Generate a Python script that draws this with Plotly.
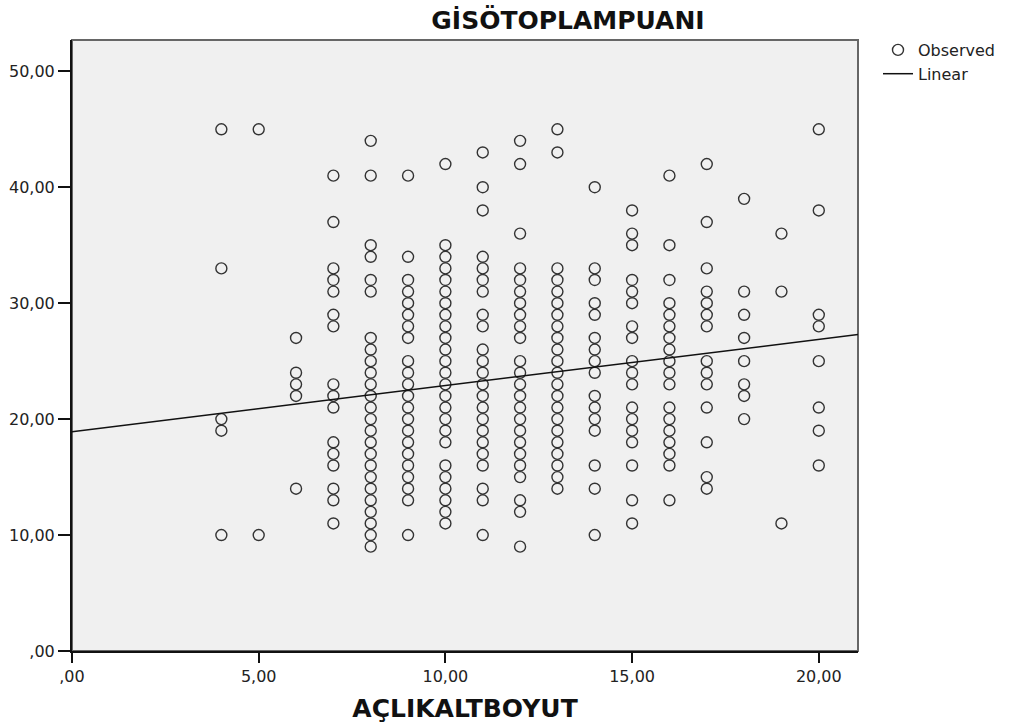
import plotly.graph_objects as go

# Observed values, read per x column (AÇLIKALTBOYUT -> GİSÖTOPLAMPUANI)
col_4 = [45, 33, 20, 19, 10]
col_5 = [45, 10]
col_6 = [27, 24, 23, 22, 14]
col_7 = [41, 37, 33, 32, 31, 29, 28, 23, 22, 21, 18, 17, 16, 14, 13, 11]
col_8 = [44, 41, 35, 34, 32, 31, 27, 26, 25, 24, 23, 22, 21, 20, 19, 18, 17, 16, 15, 14, 13, 12, 11, 10, 9]
col_9 = [41, 34, 32, 31, 30, 29, 28, 27, 25, 24, 23, 22, 21, 20, 19, 18, 17, 16, 15, 14, 13, 10]
col_10 = [42, 35, 34, 33, 32, 31, 30, 29, 28, 27, 26, 25, 24, 23, 22, 21, 20, 19, 18, 16, 15, 14, 13, 12, 11]
col_11 = [43, 40, 38, 34, 33, 32, 31, 29, 28, 26, 25, 24, 23, 22, 21, 20, 19, 18, 17, 16, 14, 13, 10]
col_12 = [44, 42, 36, 33, 32, 31, 30, 29, 28, 27, 25, 24, 23, 22, 21, 20, 19, 18, 17, 16, 15, 13, 12, 9]
col_13 = [45, 43, 33, 32, 31, 30, 29, 28, 27, 26, 25, 24, 23, 22, 21, 20, 19, 18, 17, 16, 15, 14]
col_14 = [40, 33, 32, 30, 29, 27, 26, 25, 24, 22, 21, 20, 19, 16, 14, 10]
col_15 = [38, 36, 35, 32, 31, 30, 28, 27, 25, 24, 23, 21, 20, 19, 18, 16, 13, 11]
col_16 = [41, 35, 32, 30, 29, 28, 27, 26, 25, 24, 23, 21, 20, 19, 18, 17, 16, 13]
col_17 = [42, 37, 33, 31, 30, 29, 28, 25, 24, 23, 21, 18, 15, 14]
col_18 = [39, 31, 29, 27, 25, 23, 22, 20]
col_19 = [36, 31, 11]
col_20 = [45, 38, 29, 28, 25, 21, 19, 16]

x_levels = [4, 5, 6, 7, 8, 9, 10, 11, 12, 13, 14, 15, 16, 17, 18, 19, 20]
columns = [col_4, col_5, col_6, col_7, col_8, col_9, col_10, col_11, col_12,
           col_13, col_14, col_15, col_16, col_17, col_18, col_19, col_20]

# Linear fit line endpoints
line_x = [0.0, 21.05]
line_y = [18.9, 27.3]

x_tick_vals = [0, 5, 10, 15, 20]
x_tick_text = [",00", "5,00", "10,00", "15,00", "20,00"]
y_tick_vals = [0, 10, 20, 30, 40, 50]
y_tick_text = [",00", "10,00", "20,00", "30,00", "40,00", "50,00"]

obs_x, obs_y = [], []
for xv, col in zip(x_levels, columns):
    for yv in col:
        obs_x.append(xv)
        obs_y.append(yv)

FONT = "DejaVu Sans"

fig = go.Figure()
fig.add_trace(go.Scatter(
    x=obs_x, y=obs_y, mode="markers", name="Observed",
    marker=dict(symbol="circle-open", size=11, color="#333333",
                line=dict(width=1.4, color="#333333")),
))
fig.add_trace(go.Scatter(
    x=line_x, y=line_y, mode="lines", name="Linear",
    line=dict(color="#111111", width=1.5),
))

fig.add_shape(type="rect", xref="paper", yref="paper", x0=0, y0=0, x1=1, y1=1,
              line=dict(color="#666666", width=2), layer="below")

fig.update_layout(
    width=1013, height=727,
    margin=dict(l=72, r=155, t=40, b=76),
    paper_bgcolor="white",
    plot_bgcolor="#F0F0F0",
    title=dict(text="<b>GİSÖTOPLAMPUANI</b>", x=568/1013, xanchor="center",
               y=1 - 20/727, yanchor="middle", xref="container", yref="container",
               font=dict(family=FONT, size=25, color="#111111")),
    showlegend=True,
    legend=dict(x=878/1013, y=1 - 33/727, xref="container", yref="container",
                xanchor="left", yanchor="top", bgcolor="rgba(0,0,0,0)",
                font=dict(family=FONT, size=16, color="#222222"),
                tracegroupgap=0, itemwidth=30),
)

fig.update_xaxes(
    range=[0, 21.05], tickvals=x_tick_vals, ticktext=x_tick_text,
    ticks="outside", ticklen=10, tickwidth=1.5, tickcolor="#111111",
    showgrid=False, zeroline=False, showline=True, linecolor="#111111", linewidth=2,
    tickfont=dict(family=FONT, size=16, color="#222222"),
    title=dict(text="<b>AÇLIKALTBOYUT</b>", standoff=14,
               font=dict(family=FONT, size=25, color="#111111")),
    automargin=False,
)
fig.update_yaxes(
    range=[0, 52.7], tickvals=y_tick_vals, ticktext=y_tick_text,
    ticks="outside", ticklen=12, tickwidth=1.5, tickcolor="#111111",
    showgrid=False, zeroline=False, showline=True, linecolor="#111111", linewidth=2,
    tickfont=dict(family=FONT, size=16, color="#222222"),
    automargin=False,
)

fig.write_html("out.html", config={"displayModeBar": False},
               post_script="document.body.style.margin='0';")
